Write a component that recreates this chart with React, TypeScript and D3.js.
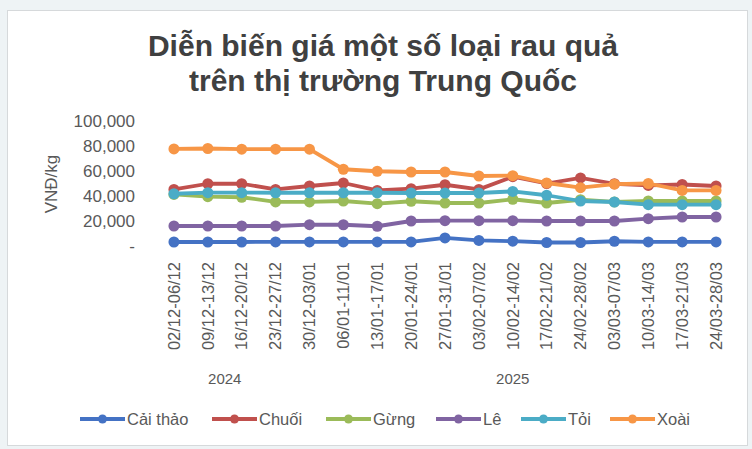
import React, { useRef, useEffect } from 'react';
import * as d3 from 'd3';

const weeks = [
  '02/12-06/12', '09/12-13/12', '16/12-20/12', '23/12-27/12', '30/12-03/01',
  '06/01-11/01', '13/01-17/01', '20/01-24/01', '27/01-31/01', '03/02-07/02',
  '10/02-14/02', '17/02-21/02', '24/02-28/02', '03/03-07/03', '10/03-14/03',
  '17/03-21/03', '24/03-28/03',
];

// year groups: [label, first index, last index]
const years: [string, number, number][] = [
  ['2024', 0, 3],
  ['2025', 4, 16],
];

const yTicks = [0, 20000, 40000, 60000, 80000, 100000];

const caiThao = [3200, 3200, 3200, 3300, 3300, 3300, 3300, 3300, 6500, 4500, 3900, 2800, 2800, 3800, 3300, 3300, 3300];
const chuoi = [45300, 49800, 49800, 45300, 48000, 50400, 44500, 45900, 49000, 45300, 55500, 50000, 54500, 49800, 48500, 49200, 48000];
const gung = [41300, 39500, 39000, 35300, 35300, 36000, 33900, 35800, 34400, 34400, 37400, 34400, 37000, 35300, 36000, 36000, 36000];
const le = [16000, 16000, 16000, 16000, 17100, 17000, 15800, 20000, 20300, 20300, 20300, 20000, 20000, 20000, 21900, 23200, 23200];
const toi = [41800, 42700, 42700, 42600, 42600, 42600, 42600, 42400, 42400, 42400, 43700, 40600, 36000, 35200, 33100, 33100, 33100];
const xoai = [77700, 78000, 77500, 77500, 77500, 61400, 59800, 59200, 59200, 56000, 56300, 50400, 46700, 49500, 50000, 44500, 44500];

const seriesNames = ['Cải thảo', 'Chuối', 'Gừng', 'Lê', 'Tỏi', 'Xoài'];
const seriesValues = [caiThao, chuoi, gung, le, toi, xoai];
const seriesColors = ['#4472C4', '#C0504D', '#9BBB59', '#8064A2', '#4BACC6', '#F79646'];

const W = 752;
const H = 449;

export default function App() {
  const svgRef = useRef<SVGSVGElement>(null);

  useEffect(() => {
    draw(svgRef.current as SVGSVGElement);
  }, []);

  return (
    <div style={{ position: 'absolute', left: 0, top: 0 }}>
      <svg ref={svgRef} width={W} height={H}></svg>
    </div>
  );
}

function draw(node: SVGSVGElement) {
  const svg = d3.select(node);
  svg.selectAll('*').remove();

  const font = "'Liberation Sans', Arial, sans-serif";
  const gray = '#595959';

  svg.append('rect').attr('width', W).attr('height', H).attr('fill', '#eef3f5');
  svg.append('rect')
    .attr('x', 7.5).attr('y', 10.5)
    .attr('width', 740).attr('height', 435)
    .attr('fill', '#fff')
    .attr('stroke', '#d6d9db');

  // title
  const title = svg.append('text')
    .attr('text-anchor', 'middle')
    .attr('font-family', font)
    .attr('font-weight', 'bold')
    .attr('font-size', 30)
    .attr('fill', '#404040');
  title.append('tspan').attr('x', 383).attr('y', 56).text('Diễn biến giá một số loại rau quả');
  title.append('tspan').attr('x', 383).attr('y', 91).text('trên thị trường Trung Quốc');

  const x = d3.scaleBand<string>().domain(weeks).range([157, 733]);
  const cx = (i: number) => (x(weeks[i]) as number) + x.bandwidth() / 2;
  const y = d3.scaleLinear().domain([0, 100000]).range([246, 121]);

  // y axis labels
  svg.append('g')
    .selectAll('text')
    .data(yTicks)
    .join('text')
    .attr('x', 135)
    .attr('y', d => y(d))
    .attr('dy', '0.35em')
    .attr('text-anchor', 'end')
    .attr('font-family', font)
    .attr('font-size', 17)
    .attr('fill', gray)
    .text(d => (d === 0 ? '-' : d3.format(',')(d)));

  svg.append('text')
    .attr('transform', 'translate(51,184) rotate(-90)')
    .attr('text-anchor', 'middle')
    .attr('dy', '0.35em')
    .attr('font-family', font)
    .attr('font-size', 17)
    .attr('fill', gray)
    .text('VNĐ/kg');

  // x labels
  svg.append('g')
    .selectAll('text')
    .data(weeks)
    .join('text')
    .attr('transform', (d, i) => `translate(${cx(i)},262) rotate(-90)`)
    .attr('text-anchor', 'end')
    .attr('dy', '0.35em')
    .attr('font-family', font)
    .attr('font-size', 16.5)
    .attr('fill', gray)
    .text(d => d);

  svg.append('g')
    .selectAll('text')
    .data(years)
    .join('text')
    .attr('x', d => (cx(d[1]) + cx(d[2])) / 2)
    .attr('y', 379)
    .attr('dy', '0.35em')
    .attr('text-anchor', 'middle')
    .attr('font-family', font)
    .attr('font-size', 15)
    .attr('fill', gray)
    .text(d => d[0]);

  // lines
  const line = d3.line<number>()
    .x((d, i) => cx(i))
    .y(d => y(d));

  seriesValues.forEach((vals, s) => {
    const g = svg.append('g');
    g.append('path')
      .attr('d', line(vals))
      .attr('fill', 'none')
      .attr('stroke', seriesColors[s])
      .attr('stroke-width', 3.8)
      .attr('stroke-linejoin', 'round');
    g.selectAll('circle')
      .data(vals)
      .join('circle')
      .attr('cx', (d, i) => cx(i))
      .attr('cy', d => y(d))
      .attr('r', 5.5)
      .attr('fill', seriesColors[s]);
  });

  // legend
  const legendX = [80, 212, 326, 436, 521, 610];
  const ly = 419;
  const lg = svg.append('g')
    .selectAll('g')
    .data(seriesNames)
    .join('g')
    .attr('transform', (d, i) => `translate(${legendX[i]},${ly})`);
  lg.append('line')
    .attr('x1', 0).attr('x2', 45)
    .attr('stroke', (d, i) => seriesColors[i])
    .attr('stroke-width', 3.8);
  lg.append('circle')
    .attr('cx', 22.5).attr('r', 4.5)
    .attr('fill', (d, i) => seriesColors[i]);
  lg.append('text')
    .attr('x', 47)
    .attr('dy', '0.35em')
    .attr('font-family', font)
    .attr('font-size', 16.5)
    .attr('fill', gray)
    .text(d => d);
}
